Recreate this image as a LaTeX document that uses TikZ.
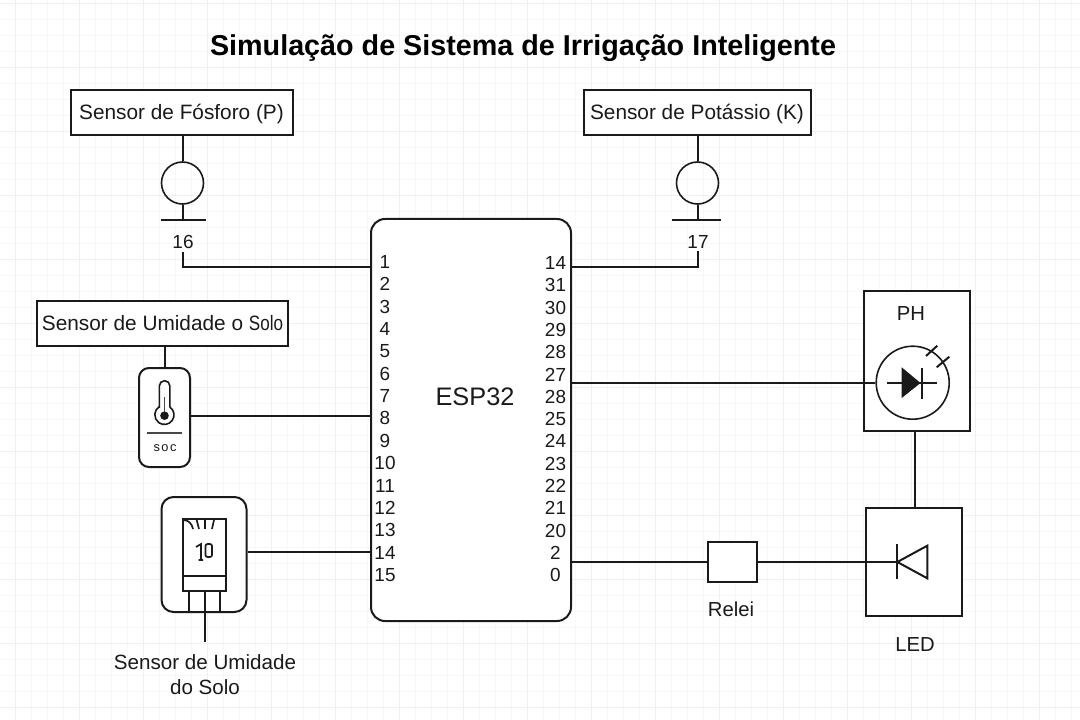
\documentclass[tikz,border=0pt]{standalone}
\usepackage{graphicx}
\usepackage{fontspec}
\setmainfont{Liberation Sans}
\definecolor{gridminor}{HTML}{F8F8F8}
\definecolor{gridmajor}{HTML}{F0F0F0}
\definecolor{ink}{HTML}{1A1A1A}
\tikzset{
  wire/.style={draw=ink,line width=1.5pt},
  thin wire/.style={draw=ink,line width=1.25pt},
  box/.style={draw=ink,line width=1.5pt,fill=white,inner sep=0pt},
  lab/.style={font=\fontsize{15.2}{18}\selectfont,text=ink,inner sep=0pt},
  boxlab/.style={font=\fontsize{15.6}{18}\selectfont,text=ink,inner sep=0pt,text height=10.6pt,text depth=0pt},
  pin/.style={font=\fontsize{14.2}{16}\selectfont,text=ink,inner sep=0pt},
}
\begin{document}
\begin{tikzpicture}[x=0.75pt,y=-0.75pt]
\useasboundingbox (0,0) rectangle (1080,720);
\fill[white] (0,0) rectangle (1080,720);
% grid
\foreach \i in {-1,0,...,68} {\draw[gridminor,line width=0.6pt] ({15+16*\i},0) -- ({15+16*\i},720);}
\foreach \i in {0,1,...,46} {\draw[gridminor,line width=0.6pt] (0,{3+16*\i}) -- (1080,{3+16*\i});}
\foreach \i in {0,1,...,17} {\draw[gridmajor,line width=0.6pt] ({15+64*\i},0) -- ({15+64*\i},720);}
\foreach \i in {0,1,...,11} {\draw[gridmajor,line width=0.6pt] (0,{3+64*\i}) -- (1080,{3+64*\i});}
% title
\node[font=\fontsize{21.55}{24}\selectfont\bfseries,text=black,inner sep=0pt] (title) at (523,48.5) {Simulação de Sistema de Irrigação Inteligente};
% ESP32
\node[draw=ink,line width=1.5pt,fill=white,rounded corners=10.5pt,minimum width=200pt*0.75,minimum height=402pt*0.75,inner sep=0pt] (esp) at (471,420) {};
\node[font=\fontsize{19}{20}\selectfont,text=ink,inner sep=0pt] (esplab) at (475,397) {ESP32};
\foreach \n/\t [count=\k from 0] in {l1/1,l2/2,l3/3,l4/4,l5/5,l6/6,l7/7,l8/8,l9/9,l10/10,l11/11,l12/12,l13/13,l14/14,l15/15}
  \node[pin,anchor=base] (\n) at (385,{268.5+22.35*\k}) {\t};
\foreach \n/\t [count=\k from 0] in {r1/14,r2/31,r3/30,r4/29,r5/28,r6/27,r7/28,r8/25,r9/24,r10/23,r11/22,r12/21,r13/20,r14/2,r15/0}
  \node[pin,anchor=base] (\n) at (555.5,{269.5+22.3*\k}) {\t};
% Fosforo
\node[box,boxlab,minimum width=222pt*0.75,minimum height=45pt*0.75] (fos) at (181.5,112.5) {Sensor de Fósforo (P)};
\node[draw=ink,line width=1.2pt,circle,minimum size=42pt*0.75,inner sep=0pt] (fosc) at (182.5,183) {};
\coordinate (fosg) at (182.5,220.5);
\draw[wire] (fos.south-|fosc.north) -- (fosc.north);
\draw[wire] (fosc.south) -- (fosg);
\coordinate (fosgl) at (160.5,220.5); \coordinate (fosgr) at (205.5,220.5);
\draw[wire] (fosgl) -- (fosgr);
\node[pin] (n16) at (183,242) {16};
\coordinate (fosb) at (183,252);
\coordinate (fose) at (371,267);
\draw[wire] (fosb) |- (fose);
% Potassio
\node[box,boxlab,minimum width=227pt*0.75,minimum height=45pt*0.75] (pot) at (697,112.5) {Sensor de Potássio (K)};
\node[draw=ink,line width=1.2pt,circle,minimum size=42pt*0.75,inner sep=0pt] (potc) at (697.5,183) {};
\coordinate (potg) at (697.5,220.5);
\draw[wire] (pot.south-|potc.north) -- (potc.north);
\draw[wire] (potc.south) -- (potg);
\coordinate (potgl) at (672,220.5); \coordinate (potgr) at (720.5,220.5);
\draw[wire] (potgl) -- (potgr);
\node[pin] (n17) at (698,242) {17};
\coordinate (potb) at (698,251);
\coordinate (pote) at (571,267);
\draw[wire] (potb) |- (pote);
% Umidade top
\node[box,boxlab,minimum width=251pt*0.75,minimum height=45pt*0.75] (umi) at (162.5,323) {Sensor de Umidade o \scalebox{0.82}[1]{Solo}};
\node[draw=ink,line width=1.5pt,rounded corners=7.5pt,fill=white,minimum width=51pt*0.75,minimum height=99pt*0.75,inner sep=0pt] (soc) at (164.5,417.5) {};
\draw[wire] (umi.south-|soc.north) -- (soc.north);
\coordinate (soce) at (371,416);
\draw[wire] (soc.east|-soce) -- (soce);
% thermometer
\draw[draw=ink,line width=1.2pt,fill=white] (159.3,407) -- (159.3,386) arc[start angle=180,end angle=360,radius=5.3] -- (169.9,407) arc[start angle=-55,end angle=235,radius=9.6] -- cycle;
\fill[ink] (164.5,415.7) circle[radius=4.3];
\draw[ink!80,line width=0.9pt] (164.5,397) -- (164.5,412);
\draw[draw=ink!80,line width=1.1pt] (147,433) -- (182,433);
\node[font=\fontsize{9.6}{10}\selectfont,text=ink,inner sep=0pt] (soct) at (165,448.5) {\addfontfeature{LetterSpace=12}soc};
% Umidade do solo device
\node[draw=ink,line width=1.5pt,rounded corners=9pt,fill=white,minimum width=85pt*0.75,minimum height=115pt*0.75,inner sep=0pt] (dev) at (204,554.5) {};
\draw[wire,fill=white] (183,519) rectangle (226,590.5);
\draw[wire] (183,575.7) -- (226,575.7);
\draw[wire] (188.7,590) -- (188.7,612);
\draw[wire] (220,590) -- (220,612);
\coordinate (devb) at (204.5,642);
\draw[wire] (204.5,590) -- (devb);
\draw[thin wire] (183,520) .. controls (189,520) and (192,524) .. (193,529);
\draw[thin wire] (196.7,520) -- (199,529);
\draw[thin wire] (205,520) -- (205,529);
\draw[thin wire] (214,520) -- (212,529);
\draw[thin wire] (198.5,560) -- (203,560) (201,560) -- (201,544) -- (196,547);
\draw[thin wire,rounded corners=1.5pt] (205.5,544) rectangle (212,557);
\coordinate (deve) at (371,552);
\draw[wire] (dev.east|-deve) -- (deve);
\node[font=\fontsize{15.45}{18}\selectfont,text=ink,inner sep=0pt,align=center] (devlab) at (205,674.5) {Sensor de Umidade\\[0.4pt]do Solo};
% PH
\node[box,minimum width=106pt*0.75,minimum height=140pt*0.75] (ph) at (917,361) {};
\node[lab] (phlab) at (911,314) {PH};
\node[draw=ink,line width=1.2pt,fill=white,circle,minimum size=73pt*0.75,inner sep=0pt] (phc) at (912.7,382.7) {};
\coordinate (pha) at (571,383);
\draw[wire] (pha) -- (phc.west|-pha);
\draw[thin wire] (887,383) -- (937.3,383);
\fill[ink] (901.7,367.3) -- (901.7,398) -- (920.5,383) -- cycle;
\draw[ink,line width=1.7pt] (921.7,368) -- (921.7,398.7);
\draw[ink,line width=1.5pt] (926,356) -- (937.3,345.7);
\draw[ink,line width=1.5pt] (936.7,367.3) -- (949.3,356.7);
% LED
\node[box,minimum width=96pt*0.75,minimum height=108pt*0.75] (led) at (913.7,562) {};
\coordinate (stem) at (915,470);
\draw[wire] (ph.south-|stem) -- (led.north-|stem);
\draw[wire] (897.3,544) -- (897.3,579);
\draw[wire] (897.3,562) -- (927.3,545.7) -- (927.3,578.3) -- cycle;
\node[lab] (ledlab) at (915,645) {LED};
% Relei
\node[box,minimum width=49pt*0.75,minimum height=40pt*0.75] (rel) at (732,562) {};
\node[lab] (rellab) at (731,609) {Relei};
\coordinate (rela) at (571,562);
\coordinate (ledk) at (897.3,562);
\draw[wire] (rela) -- (rel.west);
\draw[wire] (rel.east) -- (ledk);
\end{tikzpicture}
\end{document}
